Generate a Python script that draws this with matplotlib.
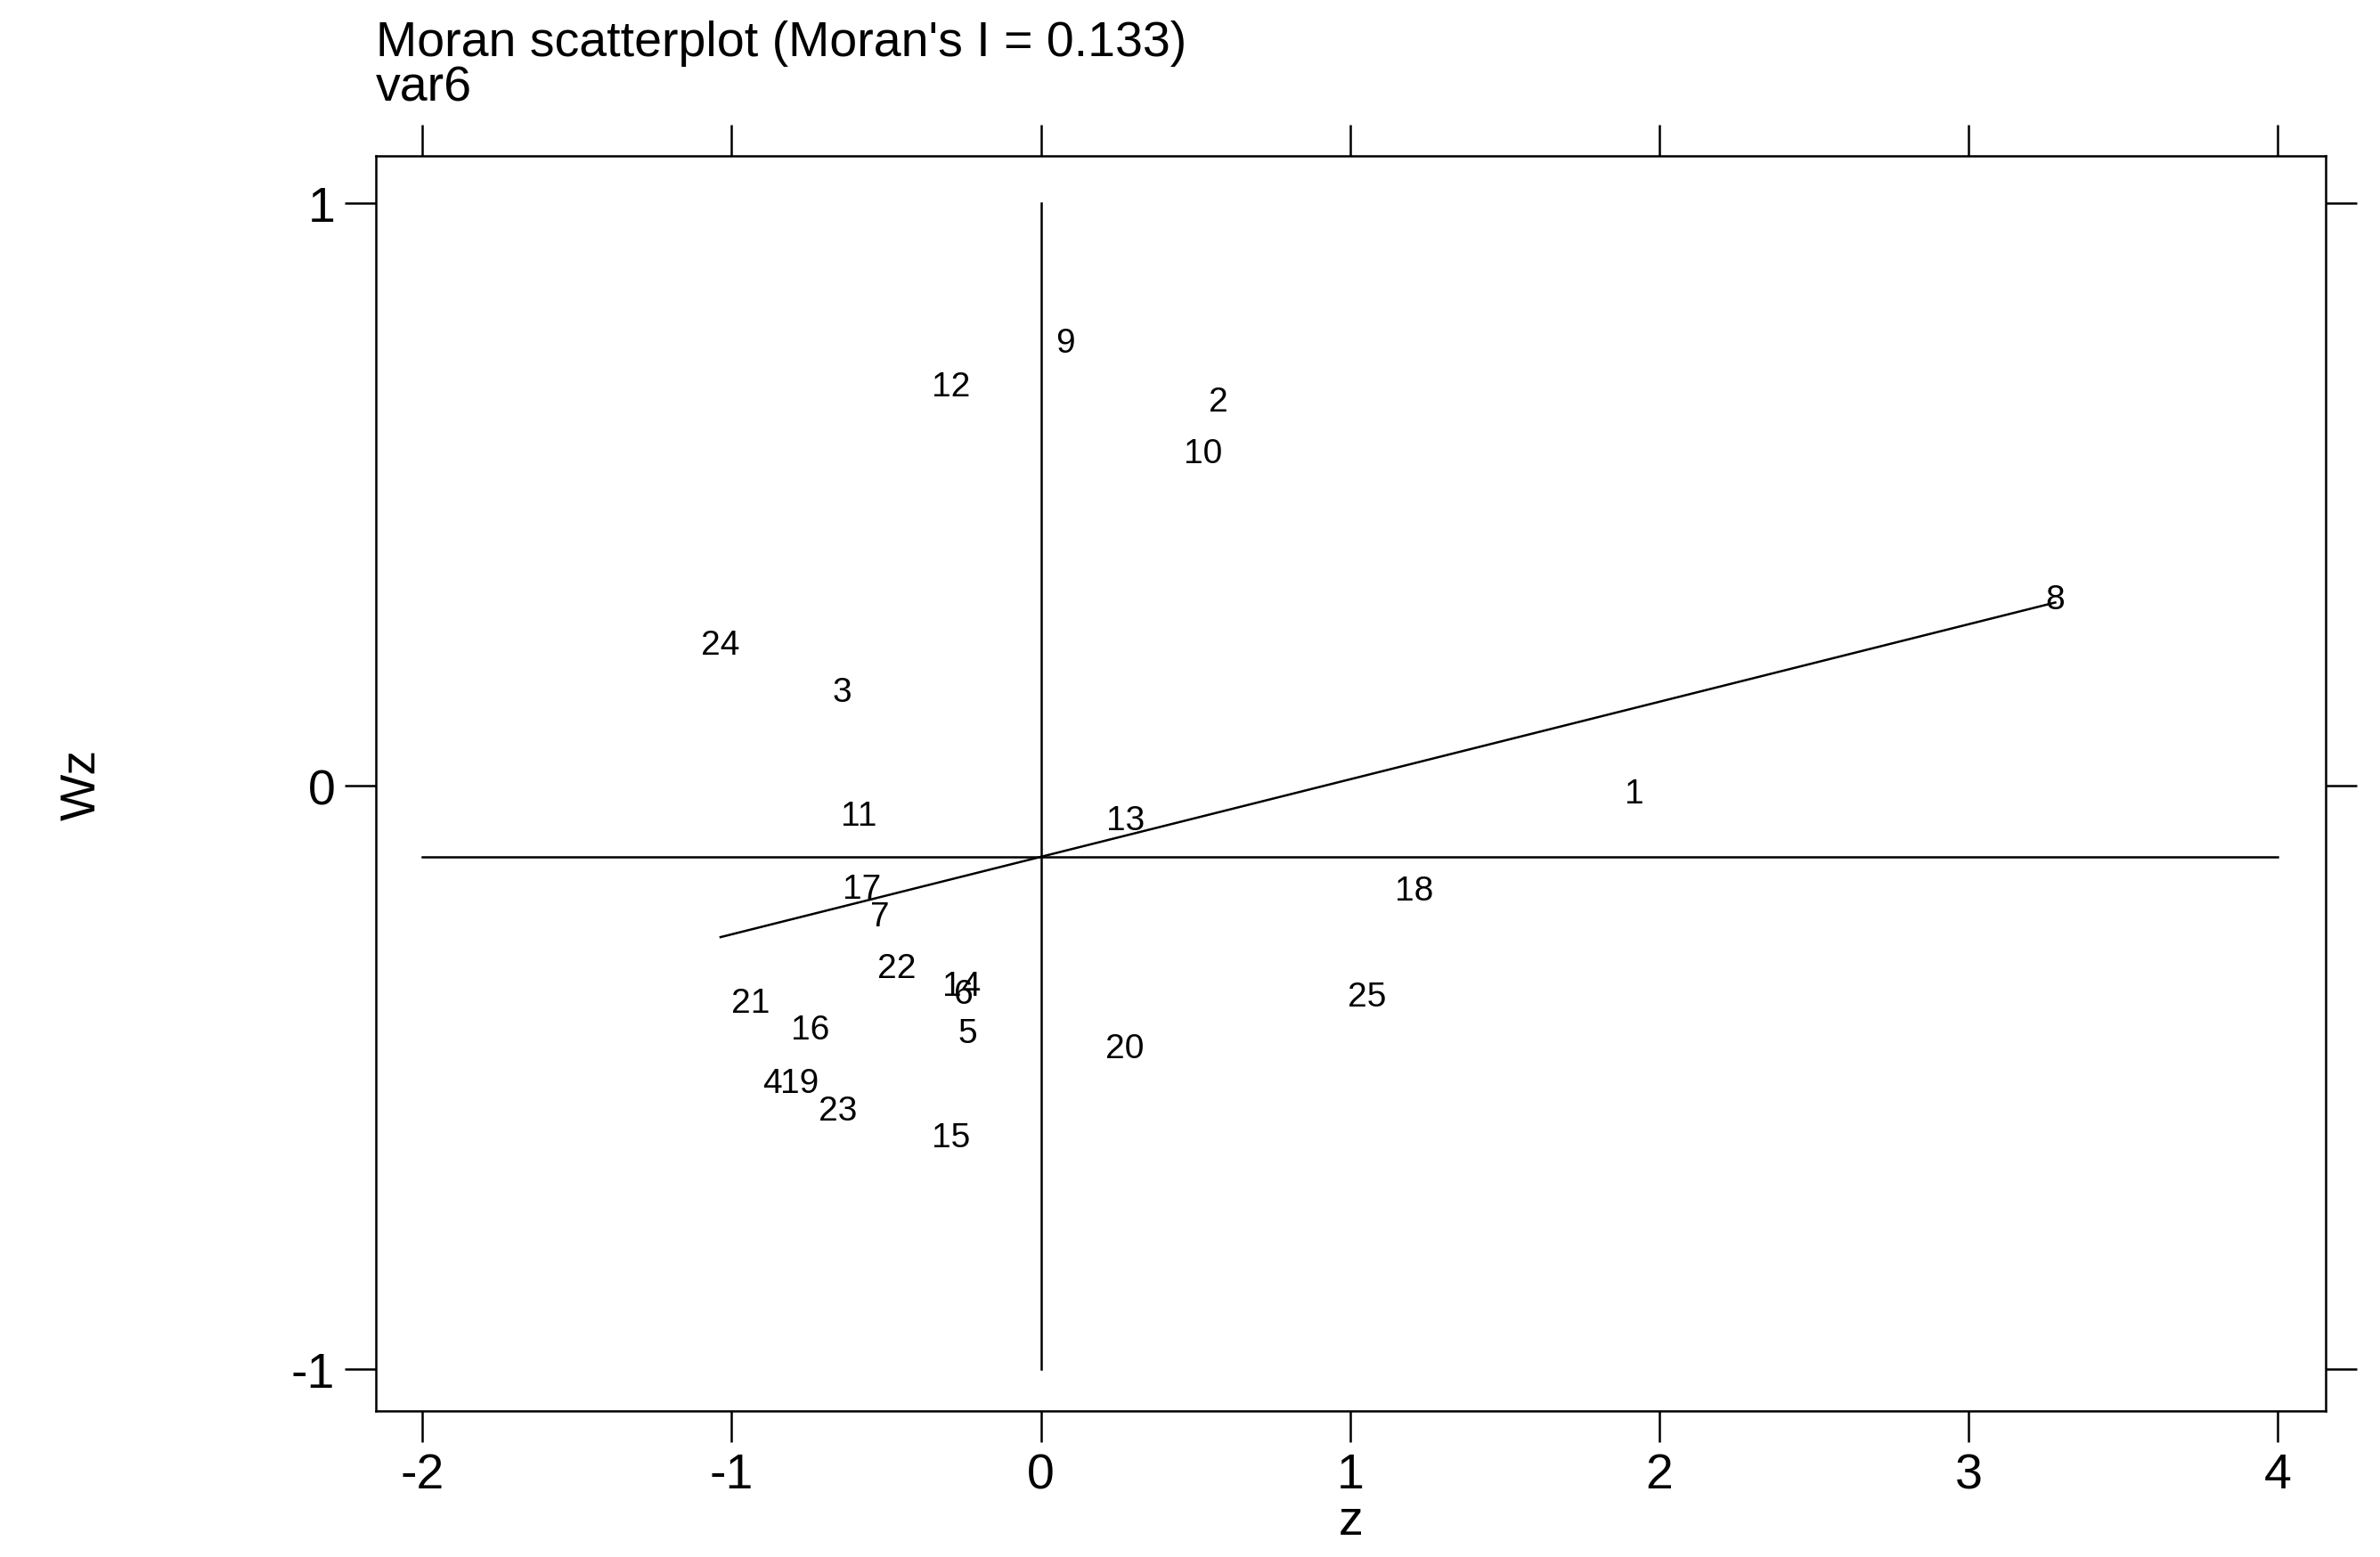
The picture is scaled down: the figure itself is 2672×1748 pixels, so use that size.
import matplotlib
matplotlib.use('Agg')
import matplotlib.pyplot as plt

plt.rcParams['font.family'] = ['Liberation Sans', 'DejaVu Sans']
plt.rcParams['axes.unicode_minus'] = False

labels = ['1', '2', '3', '4', '5', '6', '7', '8', '9', '10', '11', '12', '13',
          '14', '15', '16', '17', '18', '19', '20', '21', '22', '23', '24', '25']
z = [1.92, 0.574, -0.643, -0.869, -0.236, -0.25, -0.520, 3.28, 0.079, 0.525,
     -0.589, -0.29, 0.275, -0.255, -0.29, -0.746, -0.579, 1.208, -0.781, 0.270,
     -0.938, -0.466, -0.658, -1.036, 1.055]
wz = [-0.013, 0.659, 0.161, -0.510, -0.424, -0.357, -0.224, 0.320, 0.760, 0.570,
      -0.052, 0.685, -0.060, -0.344, -0.604, -0.419, -0.177, -0.180, -0.510, -0.451,
      -0.372, -0.313, -0.557, 0.242, -0.362]
moran_i = 0.133
mean_wz = -0.122

fig = plt.figure(figsize=(26.72, 17.49), dpi=100)
ax = fig.add_axes([0.158, 0.0936, 0.819, 0.806])

# 14 and 6 overlap in the original too
for lab, x, y in zip(labels, z, wz):
    ax.text(x, y, lab, ha='center', va='center', fontsize=28)

lw = 1.8
ax.plot([-2, 4], [mean_wz, mean_wz], color='black', lw=lw)
ax.plot([0, 0], [-1, 1], color='black', lw=lw)
xs = [min(z), max(z)]
ax.plot(xs, [mean_wz + moran_i * v for v in xs], color='black', lw=lw)

ax.set_xlim(-2.15, 4.153)
ax.set_ylim(-1.073, 1.081)
ax.set_xticks([-2, -1, 0, 1, 2, 3, 4])
ax.set_yticks([-1, 0, 1])
ax.tick_params(direction='out', length=25, width=lw, labelsize=40, pad=8,
               top=True, right=True, labeltop=False, labelright=False)
for s in ax.spines.values():
    s.set_linewidth(lw)
ax.set_xlabel('z', fontsize=40, labelpad=0)
ax.set_ylabel('Wz', fontsize=40, labelpad=150)
ax.set_title("Moran scatterplot (Moran's I = 0.133)\nvar6", loc='left',
             fontsize=40, pad=45, linespacing=0.95)

fig.savefig('out.png', dpi=100)
